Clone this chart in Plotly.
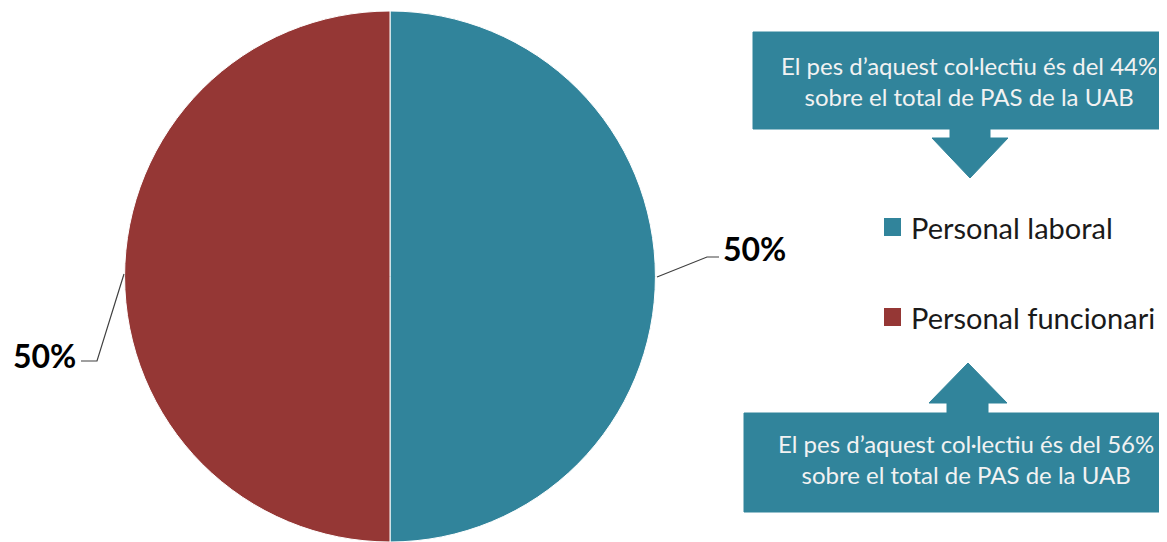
import plotly.graph_objects as go

labels = ["Personal laboral", "Personal funcionari"]
values = [50, 50]
colors = ["#31849B", "#953735"]
callouts = [
    "El pes d\u2019aquest col\u00b7lectiu \u00e9s del 44%<br>sobre el total de PAS de la UAB",
    "El pes d\u2019aquest col\u00b7lectiu \u00e9s del 56%<br>sobre el total de PAS de la UAB",
]

# page body has an 8px margin; figure is sized so that it fills the 1167x542 window
OFF = 8
FW, FH = 1167 - OFF, 542 - OFF
total = sum(values)
pct = [f"{v / total * 100:.0f}%" for v in values]

def px(x):
    return (x - OFF) / FW

def py(y):
    return 1 - (y - OFF) / FH

fig = go.Figure(go.Pie(
    labels=labels, values=values, sort=False, direction="clockwise", rotation=0,
    marker=dict(colors=colors, line=dict(color="#ffffff", width=1)),
    textinfo="none", hoverinfo="label+percent", showlegend=False,
    domain=dict(x=[px(124.5), px(655.5)], y=[0, py(11)]),
))

shapes = []
annotations = []

# leader lines and data labels
shapes.append(dict(type="path", xref="paper", yref="paper",
                   path=f"M {px(657)} {py(277)} L {px(707)} {py(257)} L {px(719)} {py(257)}",
                   line=dict(color="#404040", width=1.2)))
shapes.append(dict(type="path", xref="paper", yref="paper",
                   path=f"M {px(124)} {py(274)} L {px(97)} {py(361)} L {px(81)} {py(361)}",
                   line=dict(color="#404040", width=1.2)))
annotations.append(dict(x=px(721), y=py(248), xref="paper", yref="paper", text=f"<b>{pct[0]}</b>",
                        showarrow=False, xanchor="left", yanchor="middle",
                        font=dict(family="Lato", size=32, color="#000000")))
annotations.append(dict(x=px(78), y=py(355), xref="paper", yref="paper", text=f"<b>{pct[1]}</b>",
                        showarrow=False, xanchor="right", yanchor="middle",
                        font=dict(family="Lato", size=32, color="#000000")))

# legend entries
for lab, col, ly in zip(labels, colors, [227, 317]):
    shapes.append(dict(type="rect", xref="paper", yref="paper",
                       x0=px(884), x1=px(901), y0=py(ly - 9), y1=py(ly + 9),
                       fillcolor=col, line=dict(width=0)))
    annotations.append(dict(x=px(909), y=py(ly), xref="paper", yref="paper", text=lab,
                            showarrow=False, xanchor="left", yanchor="middle",
                            font=dict(family="Lato", size=29, color="#1a1a1a")))

# callout boxes
box_col = "#31849B"
top_path = (f"M {px(753)} {py(32)} L {px(1162)} {py(32)} L {px(1162)} {py(129)} "
            f"L {px(990)} {py(129)} L {px(990)} {py(138)} L {px(1008)} {py(138)} "
            f"L {px(970)} {py(178)} L {px(932)} {py(138)} L {px(950)} {py(138)} "
            f"L {px(950)} {py(129)} L {px(753)} {py(129)} Z")
bot_path = (f"M {px(744)} {py(512)} L {px(1162)} {py(512)} L {px(1162)} {py(413)} "
            f"L {px(988)} {py(413)} L {px(988)} {py(403)} L {px(1007)} {py(403)} "
            f"L {px(968)} {py(363)} L {px(929)} {py(403)} L {px(947)} {py(403)} "
            f"L {px(947)} {py(413)} L {px(744)} {py(413)} Z")
for p in (top_path, bot_path):
    shapes.append(dict(type="path", xref="paper", yref="paper", path=p,
                       fillcolor=box_col, line=dict(color=box_col, width=1)))

annotations.append(dict(x=px(969), y=py(81), xref="paper", yref="paper", text=callouts[0],
                        showarrow=False, xanchor="center", yanchor="middle", align="center",
                        font=dict(family="Lato", size=24, color="#F2F2F2")))
annotations.append(dict(x=px(966), y=py(459), xref="paper", yref="paper", text=callouts[1],
                        showarrow=False, xanchor="center", yanchor="middle", align="center",
                        font=dict(family="Lato", size=24, color="#F2F2F2")))

fig.update_layout(
    width=FW, height=FH, margin=dict(l=0, r=0, t=0, b=0),
    paper_bgcolor="#ffffff", plot_bgcolor="#ffffff",
    shapes=shapes, annotations=annotations,
)

fig.write_html("out.html")
